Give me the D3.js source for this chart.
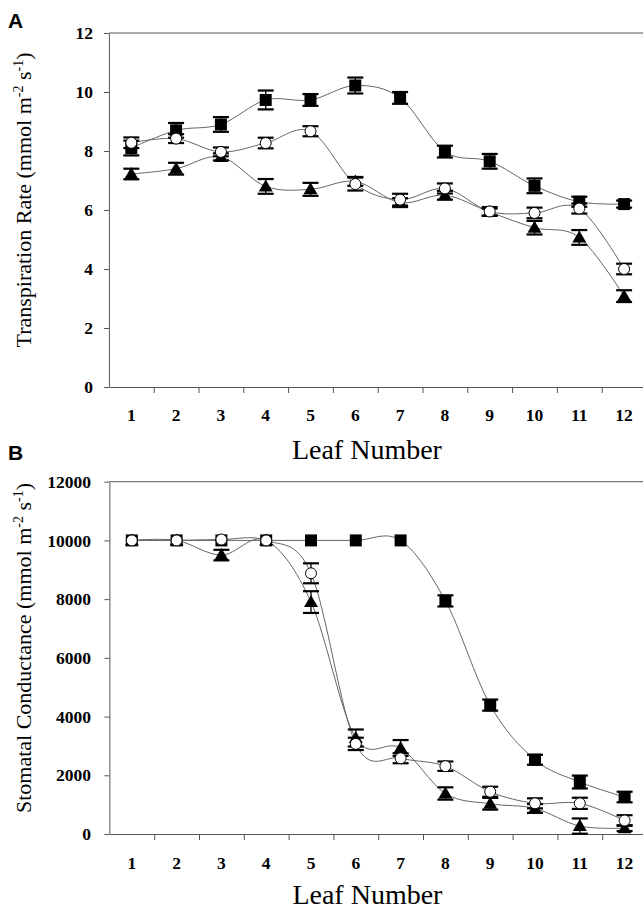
<!DOCTYPE html>
<html>
<head>
<meta charset="utf-8">
<script src="https://cdn.jsdelivr.net/npm/d3@7/dist/d3.min.js"></script>
<style>
  html, body { margin: 0; padding: 0; background: #fff; }
  svg { display: block; }
</style>
</head>
<body>
<script>
// ---------- data ----------
const leaves = [1, 2, 3, 4, 5, 6, 7, 8, 9, 10, 11, 12];

const ticksA = [0, 2, 4, 6, 8, 10, 12];
const ticksB = [0, 2000, 4000, 6000, 8000, 10000, 12000];

// Panel A: Transpiration rate
const transSquare    = [8.1, 8.7, 8.9, 9.73, 9.73, 10.22, 9.8, 7.98, 7.65, 6.82, 6.28, 6.2];
const transSquareErr = [0.25, 0.25, 0.25, 0.32, 0.2, 0.27, 0.2, 0.2, 0.25, 0.25, 0.17, 0.12];
const transCircle    = [8.28, 8.42, 7.97, 8.27, 8.67, 6.88, 6.35, 6.73, 5.95, 5.9, 6.05, 4.0];
const transCircleErr = [0.18, 0.15, 0.15, 0.18, 0.17, 0.22, 0.2, 0.17, 0.15, 0.18, 0.17, 0.18];
const transTri       = [7.22, 7.4, 7.8, 6.8, 6.7, 6.97, 6.25, 6.5, 5.93, 5.4, 5.07, 3.08];
const transTriErr    = [0.18, 0.2, 0.12, 0.25, 0.22, 0.15, 0.15, 0.15, 0.12, 0.23, 0.25, 0.2];

// Panel B: Stomatal conductance
const condSquare    = [10000, 10000, 10000, 10000, 10000, 10000, 10000, 7940, 4390, 2530, 1770, 1260];
const condSquareErr = [0, 0, 0, 0, 0, 0, 0, 190, 190, 170, 220, 180];
const condCircle    = [10000, 10000, 10030, 10000, 8880, 3070, 2580, 2310, 1440, 1045, 1045, 460];
const condCircleErr = [0, 0, 0, 0, 340, 210, 170, 160, 170, 170, 190, 180];
const condTri       = [10000, 10000, 9500, 10000, 7900, 3270, 2930, 1380, 1030, 870, 270, 200];
const condTriErr    = [0, 0, 180, 0, 370, 290, 270, 210, 200, 150, 260, 100];

// ---------- drawing ----------
const W = 643, H = 909;
const svg = d3.select("body").append("svg").attr("width", W).attr("height", H);

const serif = "'Liberation Serif', 'Times New Roman', serif";
const sans = "'Liberation Sans', Arial, sans-serif";

function panel(cfg) {
  const g = svg.append("g");
  const x = d3.scaleBand().domain(leaves).range([cfg.left, cfg.left + 537.6]).padding(0);
  const xb = d3.scaleLinear().domain([0, 12]).range([cfg.left, cfg.left + 537.6]);
  const y = d3.scaleLinear().domain([cfg.ticks[0], cfg.ticks[cfg.ticks.length - 1]]).range([cfg.bottom, cfg.top]);
  const cx = d => x(d) + x.bandwidth() / 2;

  // top frame line
  g.append("line")
    .attr("x1", cfg.left).attr("x2", W).attr("y1", cfg.top).attr("y2", cfg.top)
    .attr("stroke", "#555").attr("stroke-width", 1);

  // y axis
  const ya = g.append("g").attr("transform", `translate(${cfg.left},0)`)
    .call(d3.axisLeft(y).tickValues(cfg.ticks).tickFormat(d3.format("d"))
      .tickSize(5).tickPadding(cfg.yPad).tickSizeOuter(0));
  ya.select(".domain").attr("stroke", "#555");
  ya.selectAll(".tick line").attr("stroke", "#555");
  ya.selectAll("text").attr("font-family", serif).attr("font-weight", "bold").attr("font-size", 17.5).attr("fill", "#000");

  // x axis: ticks at boundaries
  const xa = g.append("g").attr("transform", `translate(0,${cfg.bottom})`)
    .call(d3.axisBottom(xb).tickValues(d3.range(1, 12)).tickSize(6).tickFormat("").tickSizeOuter(0));
  xa.select(".domain").attr("stroke", "#555");
  xa.selectAll(".tick line").attr("stroke", "#555");
  // labels at band centres
  const xl = g.append("g").attr("transform", `translate(0,${cfg.bottom})`)
    .call(d3.axisBottom(x).tickSize(0).tickPadding(cfg.xPad));
  xl.select(".domain").remove();
  xl.selectAll("text").attr("font-family", serif).attr("font-weight", "bold").attr("font-size", 17.5).attr("fill", "#000");

  // axis titles
  g.append("text")
    .attr("x", cfg.left + 258).attr("y", cfg.xTitleY)
    .attr("text-anchor", "middle")
    .attr("font-family", serif).attr("font-size", 28)
    .text("Leaf Number");

  const yt = g.append("text")
    .attr("transform", `translate(${cfg.yTitleX},${cfg.yTitleY}) rotate(-90)`)
    .attr("text-anchor", "middle")
    .attr("font-family", serif).attr("font-size", 22);
  yt.append("tspan").text(cfg.yTitle + " (mmol m");
  yt.append("tspan").attr("font-size", 14).attr("dy", -8).text("-2");
  yt.append("tspan").attr("dy", 8).text(" s");
  yt.append("tspan").attr("font-size", 14).attr("dy", -8).text("-1");
  yt.append("tspan").attr("dy", 8).text(")");

  // panel letter
  g.append("text").attr("x", 8).attr("y", cfg.letterY)
    .attr("font-family", sans).attr("font-weight", "bold").attr("font-size", 21)
    .text(cfg.letter);

  const series = cfg.series;
  const line = d3.line().x((d, i) => cx(leaves[i])).y(d => y(d)).curve(d3.curveCardinal.tension(0));

  // lines
  series.forEach(s => {
    g.append("path").datum(s.values).attr("d", line)
      .attr("fill", "none").attr("stroke", "#666").attr("stroke-width", 1);
  });

  // error bars + markers
  series.forEach(s => {
    const eg = g.append("g");
    s.values.forEach((v, i) => {
      const e = s.err[i];
      if (e > 0) {
        const X = cx(leaves[i]);
        eg.append("line").attr("x1", X).attr("x2", X).attr("y1", y(v - e)).attr("y2", y(v + e))
          .attr("stroke", "#000").attr("stroke-width", 1.3);
        [v - e, v + e].forEach(t => {
          eg.append("line").attr("x1", X - 8).attr("x2", X + 8).attr("y1", y(t)).attr("y2", y(t))
            .attr("stroke", "#000").attr("stroke-width", 2.2);
        });
      }
    });
    const mg = g.append("g");
    s.values.forEach((v, i) => {
      const X = cx(leaves[i]), Y = y(v);
      if (s.shape === "square") {
        mg.append("rect").attr("x", X - 6).attr("y", Y - 6).attr("width", 12).attr("height", 12).attr("fill", "#000");
      } else if (s.shape === "circle") {
        mg.append("circle").attr("cx", X).attr("cy", Y).attr("r", 5.5)
          .attr("fill", "#fff").attr("stroke", "#000").attr("stroke-width", 1);
      } else {
        mg.append("path").attr("d", `M${X},${Y - 7}L${X + 7},${Y + 5}L${X - 7},${Y + 5}Z`).attr("fill", "#000");
      }
    });
  });
}

panel({
  letter: "A", letterY: 28,
  left: 108.9, top: 33, bottom: 387,
  ticks: ticksA, yPad: 11, xPad: 21.5,
  xTitleY: 459, yTitleX: 31, yTitleY: 200,
  yTitle: "Transpiration Rate",
  series: [
    { shape: "square", values: transSquare, err: transSquareErr },
    { shape: "triangle", values: transTri, err: transTriErr },
    { shape: "circle", values: transCircle, err: transCircleErr }
  ]
});

panel({
  letter: "B", letterY: 460,
  left: 109.4, top: 481.7, bottom: 834,
  ticks: ticksB, yPad: 13.5, xPad: 22.5,
  xTitleY: 904, yTitleX: 31, yTitleY: 648,
  yTitle: "Stomatal Conductance",
  series: [
    { shape: "square", values: condSquare, err: condSquareErr },
    { shape: "triangle", values: condTri, err: condTriErr },
    { shape: "circle", values: condCircle, err: condCircleErr }
  ]
});
</script>
</body>
</html>
